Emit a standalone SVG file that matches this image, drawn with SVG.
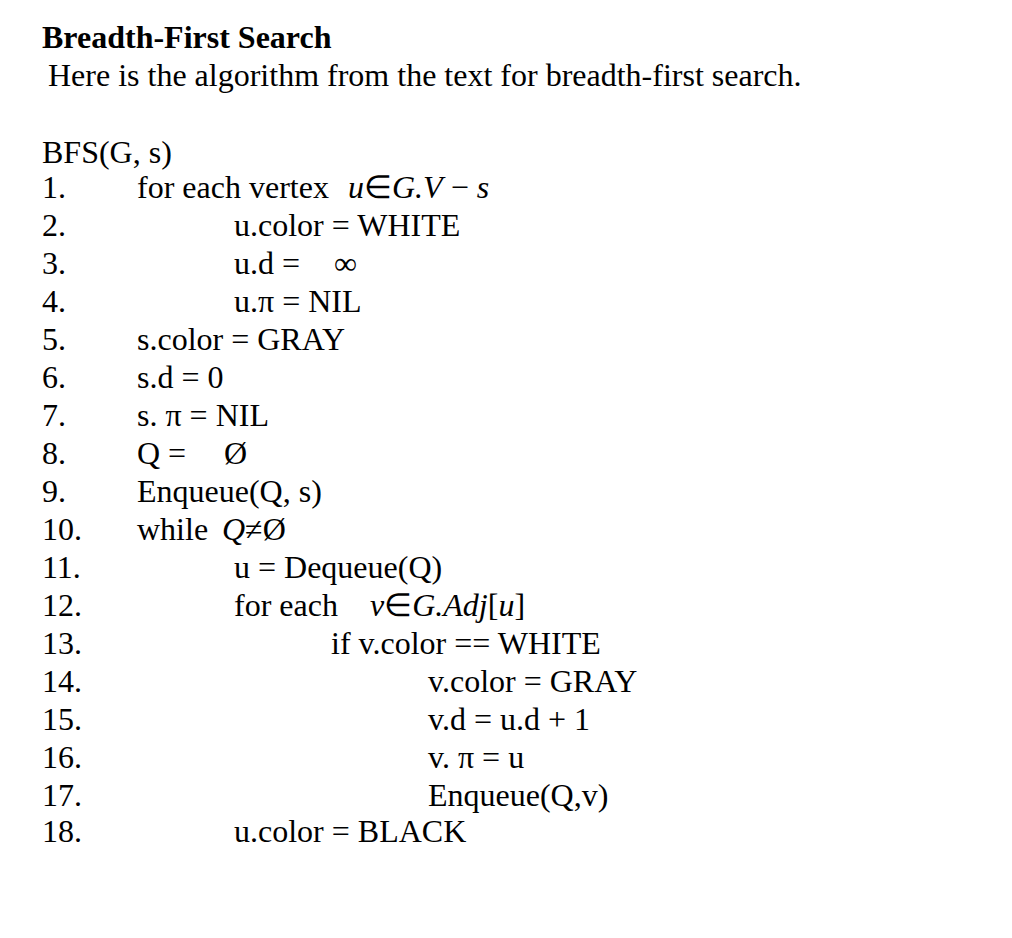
<svg xmlns="http://www.w3.org/2000/svg" width="1012" height="938" viewBox="0 0 1012 938">
<style>
text{font-family:"Liberation Serif",serif;font-size:32px;fill:#000}
.b{font-weight:bold}
.i{font-style:italic}
</style>
<rect width="1012" height="938" fill="#fff"/>
<text class="b" x="42" y="48">Breadth-First Search</text>
<text x="48" y="86">Here is the algorithm from the text for breadth-first search.</text>
<text x="42" y="163">BFS(G, s)</text>
<g>
<text x="42" y="198">1.</text><text x="137" y="198">for each vertex</text><text x="348" y="198"><tspan class="i">u</tspan><tspan>∈</tspan><tspan class="i">G.V</tspan><tspan> − </tspan><tspan class="i">s</tspan></text>
<text x="42" y="236">2.</text><text x="234" y="236">u.color = WHITE</text>
<text x="42" y="274">3.</text><text x="234" y="274">u.d = <tspan x="334">∞</tspan></text>
<text x="42" y="312">4.</text><text x="234" y="312">u.π = NIL</text>
<text x="42" y="350">5.</text><text x="137" y="350">s.color = GRAY</text>
<text x="42" y="388">6.</text><text x="137" y="388">s.d = 0</text>
<text x="42" y="426">7.</text><text x="137" y="426">s. π = NIL</text>
<text x="42" y="464">8.</text><text x="137" y="464">Q = <tspan x="224">Ø</tspan></text>
<text x="42" y="502">9.</text><text x="137" y="502">Enqueue(Q, s)</text>
<text x="42" y="540">10.</text><text x="137" y="540">while <tspan class="i" x="222">Q</tspan><tspan>≠Ø</tspan></text>
<text x="42" y="578">11.</text><text x="234" y="578">u = Dequeue(Q)</text>
<text x="42" y="616">12.</text><text x="234" y="616">for each <tspan class="i" x="370">v</tspan><tspan>∈</tspan><tspan class="i">G.Adj</tspan><tspan>[</tspan><tspan class="i">u</tspan><tspan>]</tspan></text>
<text x="42" y="654">13.</text><text x="331" y="654">if v.color == WHITE</text>
<text x="42" y="692">14.</text><text x="428" y="692">v.color = GRAY</text>
<text x="42" y="730">15.</text><text x="428" y="730">v.d = u.d + 1</text>
<text x="42" y="768">16.</text><text x="428" y="768">v. π = u</text>
<text x="42" y="806">17.</text><text x="428" y="806">Enqueue(Q,v)</text>
<text x="42" y="842">18.</text><text x="234" y="842">u.color = BLACK</text>
</g>
</svg>
